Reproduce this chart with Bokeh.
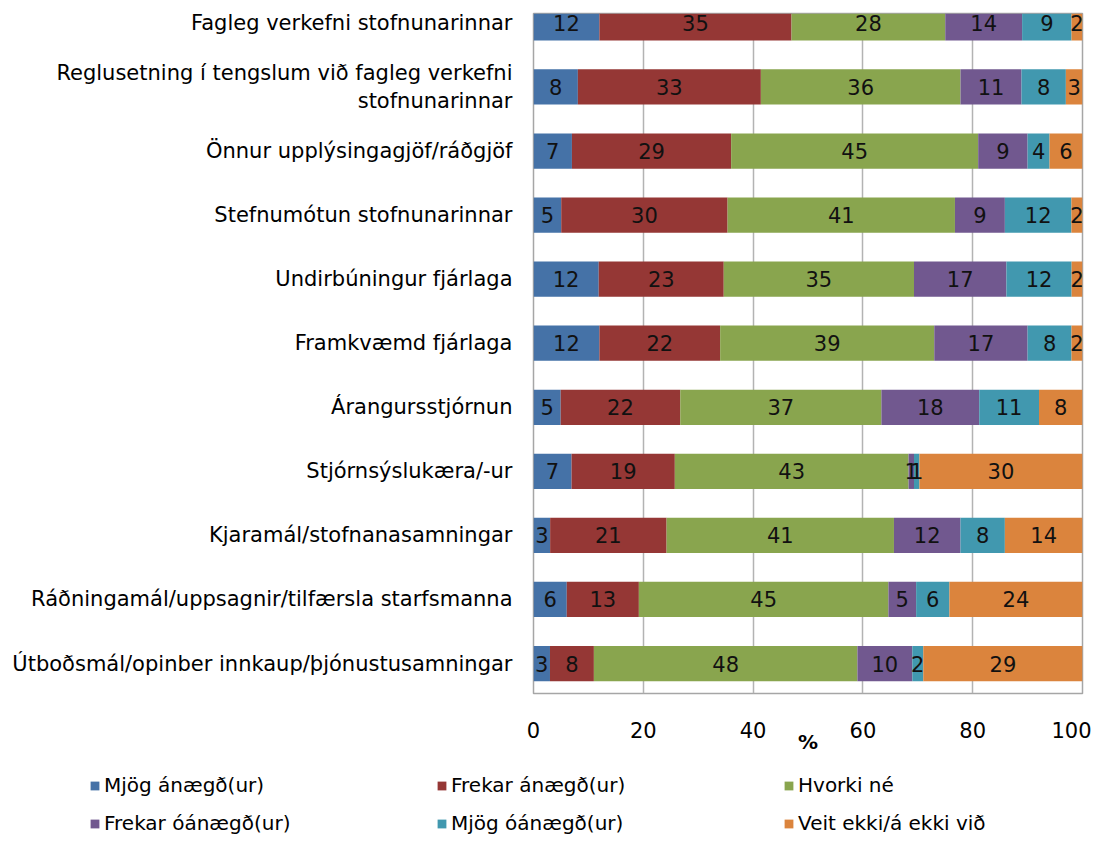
from bokeh.plotting import figure
from bokeh.layouts import column, row
from bokeh.models import (ColumnDataSource, Range1d, FixedTicker, Legend, LegendItem)
from bokeh.embed import file_html
from bokeh.resources import INLINE
from bokeh.core.properties import value

categories = [
    "Fagleg verkefni stofnunarinnar",
    "Reglusetning í tengslum við fagleg verkefni\nstofnunarinnar",
    "Önnur upplýsingagjöf/ráðgjöf",
    "Stefnumótun stofnunarinnar",
    "Undirbúningur fjárlaga",
    "Framkvæmd fjárlaga",
    "Árangursstjórnun",
    "Stjórnsýslukæra/-ur",
    "Kjaramál/stofnanasamningar",
    "Ráðningamál/uppsagnir/tilfærsla starfsmanna",
    "Útboðsmál/opinber innkaup/þjónustusamningar",
]

series_names = ["Mjög ánægð(ur)", "Frekar ánægð(ur)", "Hvorki né",
                "Frekar óánægð(ur)", "Mjög óánægð(ur)", "Veit ekki/á ekki við"]

mjog_anaegd    = [12, 8, 7, 5, 12, 12, 5, 7, 3, 6, 3]
frekar_anaegd  = [35, 33, 29, 30, 23, 22, 22, 19, 21, 13, 8]
hvorki_ne      = [28, 36, 45, 41, 35, 39, 37, 43, 41, 45, 48]
frekar_oanaegd = [14, 11, 9, 9, 17, 17, 18, 1, 12, 5, 10]
mjog_oanaegd   = [9, 8, 4, 12, 12, 8, 11, 1, 8, 6, 2]
veit_ekki      = [2, 3, 6, 2, 2, 2, 8, 30, 14, 24, 29]

x_ticks = [0, 20, 40, 60, 80, 100]

colors = ["#4572A7", "#953735", "#89A54E", "#71588F", "#4198AF", "#DB843D"]

series = [mjog_anaegd, frekar_anaegd, hvorki_ne, frekar_oanaegd, mjog_oanaegd, veit_ekki]
keys = ["s0", "s1", "s2", "s3", "s4", "s5"]

n = len(categories)
ypos = list(range(n, 0, -1))  # top category highest

# 100% stacked: normalise each row
totals = [sum(s[i] for s in series) for i in range(n)]
data = {"y": ypos}
for k, s in zip(keys, series):
    data[k] = [s[i] / totals[i] * 100.0 for i in range(n)]
source = ColumnDataSource(data)

W = 1091
H_MAIN = 766
H_LEG = 68

p = figure(width=W, height=H_MAIN, output_backend="svg", toolbar_location=None,
           x_range=Range1d(0, 100), y_range=Range1d(0.532, n + 0.147),
           min_border_left=533, min_border_right=W - 1082, min_border_top=13,
           min_border_bottom=H_MAIN - 693)

p.hbar_stack(keys, y="y", height=0.55, color=colors, source=source, line_color=None)

# labels
lx, ly, lt = [], [], []
for i in range(n):
    left = 0.0
    for k, s in zip(keys, series):
        w = data[k][i]
        lx.append(left + w / 2)
        ly.append(ypos[i])
        lt.append(str(s[i]))
        left += w
p.text(x=lx, y=ly, text=lt, text_align="center", text_baseline="middle",
       text_font=value("DejaVu Sans"), text_font_size="21px", text_color="#111111")

# axes
p.xaxis.ticker = FixedTicker(ticks=x_ticks)
p.xaxis.axis_line_color = None
p.xaxis.major_tick_line_color = None
p.xaxis.minor_tick_line_color = None
p.xaxis.major_tick_out = 0
p.xaxis.major_tick_in = 0
p.xaxis.major_label_standoff = 28
p.xaxis.major_label_text_font = "DejaVu Sans"
p.xaxis.major_label_text_font_size = "21px"
p.xaxis.major_label_text_color = "#000000"
p.xaxis.axis_label = "%"
p.xaxis.axis_label_text_font = "DejaVu Sans"
p.xaxis.axis_label_text_font_size = "20px"
p.xaxis.axis_label_text_font_style = "bold"
p.xaxis.axis_label_text_color = "#000000"
p.xaxis.axis_label_standoff = -11

p.yaxis.ticker = FixedTicker(ticks=ypos)
p.yaxis.major_label_overrides = {ypos[i]: categories[i] for i in range(n)}
p.yaxis.axis_line_color = None
p.yaxis.major_tick_line_color = None
p.yaxis.minor_tick_line_color = None
p.yaxis.major_tick_out = 0
p.yaxis.major_tick_in = 0
p.yaxis.major_label_standoff = 21
p.yaxis.major_label_text_font = "DejaVu Sans"
p.yaxis.major_label_text_font_size = "21px"
p.yaxis.major_label_text_color = "#000000"

p.ygrid.grid_line_color = None
p.xgrid.grid_line_color = "#b3b3b3"
p.xgrid.grid_line_width = 1.5
p.outline_line_color = "#a6a6a6"
p.outline_line_width = 1.5
p.background_fill_color = "white"
p.border_fill_color = "white"

# legend figure: same stacked bars (kept out of view), only its legend shows
pl = figure(width=W, height=H_LEG, output_backend="svg", toolbar_location=None,
            x_range=Range1d(-300, -200), y_range=Range1d(30, 31),
            x_axis_type=None, y_axis_type=None,
            min_border_left=0, min_border_right=0,
            min_border_top=0, min_border_bottom=0)
pl.outline_line_color = None
pl.xgrid.visible = False
pl.ygrid.visible = False
pl.background_fill_color = "white"
pl.border_fill_color = "white"
leg_renderers = pl.hbar_stack(keys, y="y", height=0.55, color=colors, source=source,
                              line_color=None)
items = [LegendItem(label=name, renderers=[r]) for name, r in zip(series_names, leg_renderers)]
legend = Legend(items=items, location=(89, -1), orientation="horizontal", ncols=3,
                glyph_width=11, glyph_height=11, label_standoff=4, label_width=318,
                label_height=20, spacing=14, padding=0, margin=0,
                border_line_color=None, background_fill_alpha=0,
                label_text_font="DejaVu Sans", label_text_font_size="20px",
                label_text_color="#000000")
pl.add_layout(legend, "center")

layout = column(p, row(pl, spacing=0), spacing=0)
open("out.html", "w").write(file_html(layout, INLINE))
